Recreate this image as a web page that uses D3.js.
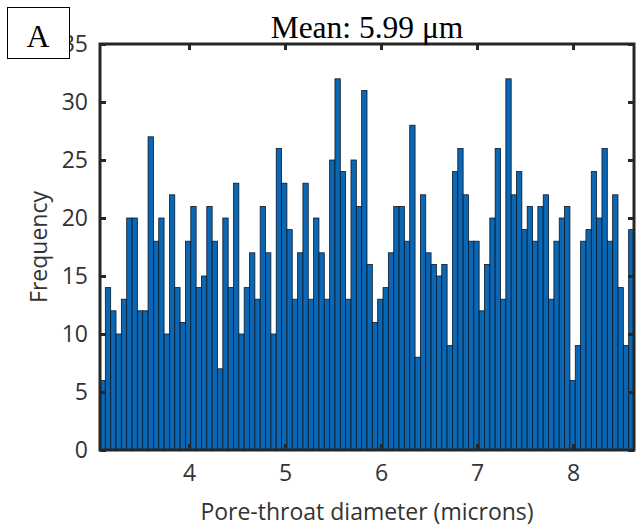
<!DOCTYPE html>
<html>
<head>
<meta charset="utf-8">
<script src="https://cdn.jsdelivr.net/npm/d3@7"></script>
<style>
  body { margin: 0; background: #fff; }
  svg { display: block; }
</style>
</head>
<body>
<svg id="chart" width="636" height="529"></svg>
<script>
// histogram counts, 100 bins
const counts = [
  6, 14, 12, 10, 13, 20, 20, 12, 12, 27,
  18, 20, 10, 22, 14, 11, 18, 21, 14, 15,
  21, 18, 7, 20, 14, 23, 10, 14, 17, 13,
  21, 17, 10, 26, 23, 19, 13, 17, 23, 13,
  20, 17, 13, 25, 32, 24, 13, 25, 21, 31,
  16, 11, 13, 14, 17, 21, 21, 18, 28, 8,
  22, 17, 16, 15, 16, 9, 24, 26, 22, 18,
  18, 12, 16, 20, 26, 13, 32, 22, 24, 19,
  21, 18, 21, 22, 13, 18, 20, 21, 6, 9,
  18, 19, 24, 20, 26, 18, 22, 14, 9, 19
]
const xRange = [3.073, 8.635]   // first and last bin edge (microns)
const xTicks = [4, 5, 6, 7, 8]
const yTicks = [0, 5, 10, 15, 20, 25, 30, 35]
const title = "Mean: 5.99 \u03bcm"
const panelLabel = "A"

let margin = {left: 100, right: 2, top: 44, bottom: 79}
let width = 636 - margin.left - margin.right
let height = 529 - margin.top - margin.bottom

let svg = d3.select("#chart")
let g = svg.append("g")
    .attr("transform", "translate(" + margin.left + "," + margin.top + ")")

let x = d3.scaleLinear().domain(xRange).range([0, width])
let y = d3.scaleLinear().domain([0, 35]).range([height, 0])

// equal-width bins between the two edges
let binW = (xRange[1] - xRange[0]) / counts.length
let bins = counts.map((c, i) => ({x0: xRange[0] + i * binW, x1: xRange[0] + (i + 1) * binW, n: c}))

g.selectAll("rect.bar")
    .data(bins)
    .enter()
    .append("rect")
    .attr("class", "bar")
    .attr("x", d => x(d.x0))
    .attr("width", d => x(d.x1) - x(d.x0))
    .attr("y", d => y(d.n))
    .attr("height", d => y(0) - y(d.n))
    .attr("fill", "#0b66b3")
    .attr("stroke", "#0a1a2a")
    .attr("stroke-width", 0.8)

const axisColor = "#262626"
const tickFont = "'Open Sans', sans-serif"

function styleAxis(sel, showText) {
    sel.select(".domain").remove()
    sel.selectAll(".tick line").attr("stroke", axisColor).attr("stroke-width", 3)
    sel.selectAll(".tick text")
        .style("font-family", tickFont)
        .style("font-size", "23px")
        .attr("fill", "#333")
    if (!showText) sel.selectAll(".tick text").remove()
}

g.append("g")
    .attr("transform", "translate(0," + height + ")")
    .call(d3.axisBottom(x).tickValues(xTicks).tickFormat(d3.format("d")).tickSizeInner(-6).tickPadding(15))
    .call(s => styleAxis(s, true))

g.append("g")
    .call(d3.axisTop(x).tickValues(xTicks).tickSizeInner(-6))
    .call(s => styleAxis(s, false))

g.append("g")
    .call(d3.axisLeft(y).tickValues(yTicks).tickFormat(d3.format("d")).tickSizeInner(-6).tickPadding(12))
    .call(s => styleAxis(s, true))

g.append("g")
    .attr("transform", "translate(" + width + ",0)")
    .call(d3.axisRight(y).tickValues(yTicks).tickSizeInner(-6))
    .call(s => styleAxis(s, false))

// box around the axes
g.append("rect")
    .attr("width", width)
    .attr("height", height)
    .attr("fill", "none")
    .attr("stroke", axisColor)
    .attr("stroke-width", 3)

svg.append("text")
    .attr("x", margin.left + width / 2)
    .attr("y", 520)
    .attr("text-anchor", "middle")
    .style("font-family", tickFont)
    .style("font-size", "23px")
    .attr("fill", "#333")
    .text("Pore-throat diameter (microns)")

svg.append("text")
    .attr("transform", "translate(47," + (margin.top + height / 2) + ") rotate(-90)")
    .attr("text-anchor", "middle")
    .style("font-family", tickFont)
    .style("font-size", "23px")
    .attr("fill", "#333")
    .text("Frequency")

svg.append("text")
    .attr("x", 367)
    .attr("y", 38)
    .attr("text-anchor", "middle")
    .style("font-family", "'Liberation Serif', 'Times New Roman', serif")
    .style("font-size", "31.5px")
    .attr("fill", "#000")
    .text(title)

// panel label box sits over the "35" label, like in the figure
svg.append("rect")
    .attr("x", 7.5).attr("y", 7.5)
    .attr("width", 62).attr("height", 51)
    .attr("fill", "#fff")
    .attr("stroke", "#000")
    .attr("stroke-width", 1)

svg.append("text")
    .attr("x", 38)
    .attr("y", 47)
    .attr("text-anchor", "middle")
    .style("font-family", "'Liberation Serif', 'Times New Roman', serif")
    .style("font-size", "32px")
    .attr("fill", "#000")
    .text(panelLabel)
</script>
</body>
</html>
